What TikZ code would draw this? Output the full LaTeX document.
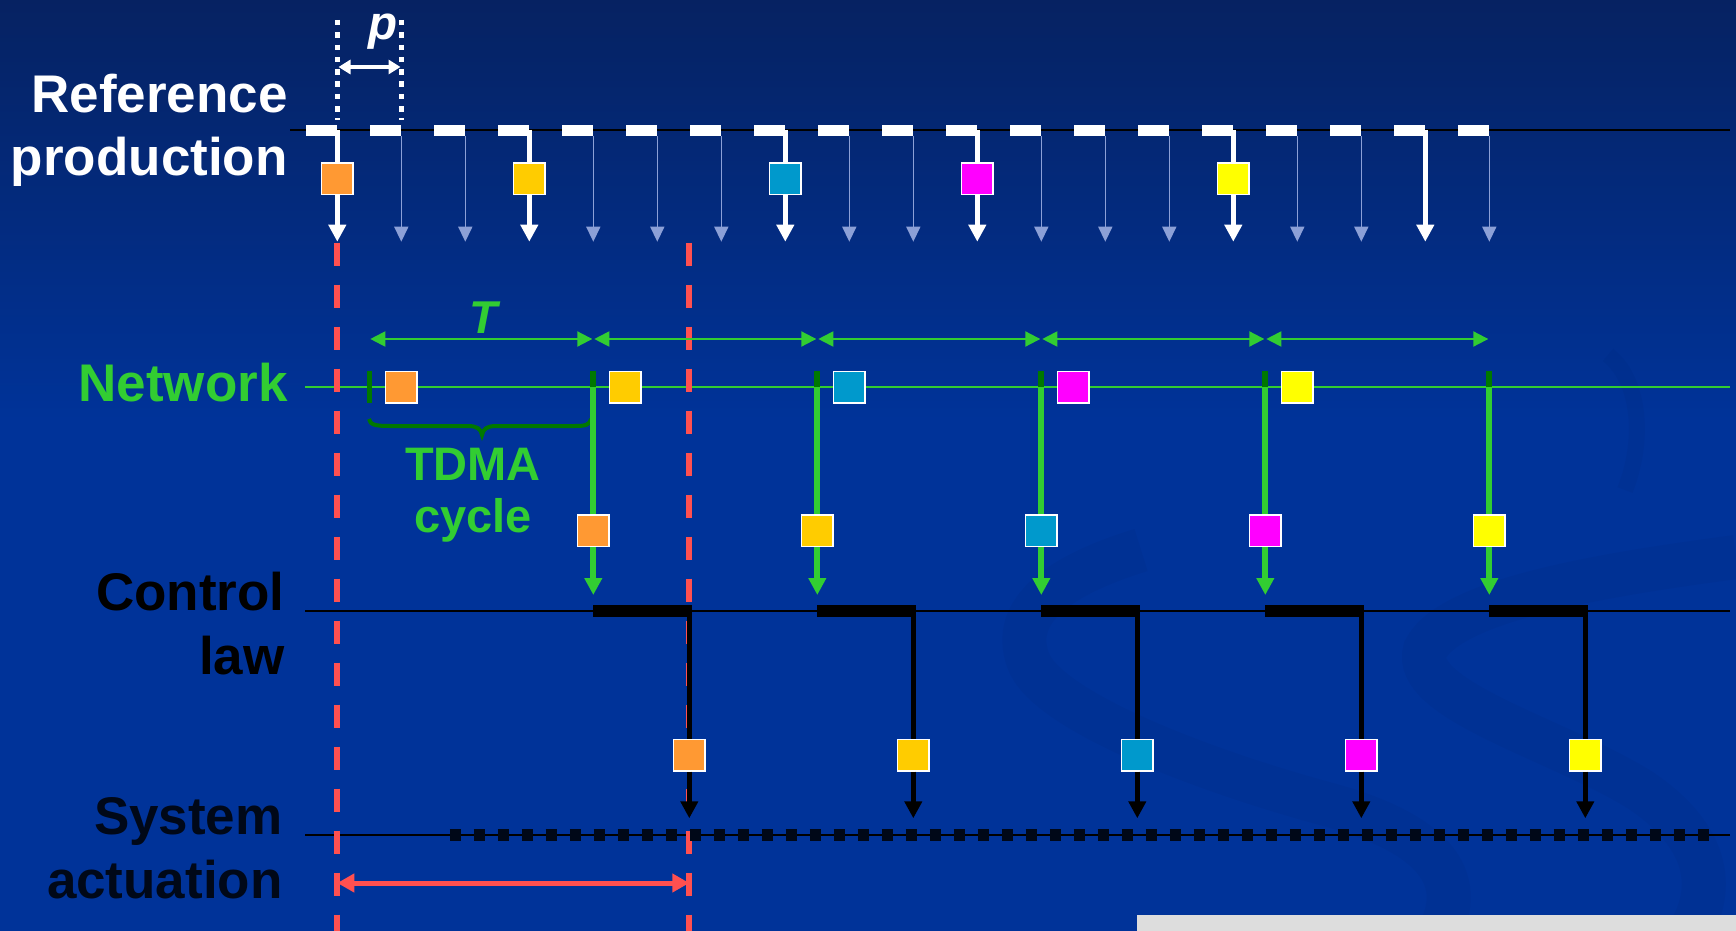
\documentclass[tikz,border=0pt]{standalone}
\usepackage{fontspec}
\setmainfont{Liberation Sans}
\usetikzlibrary{arrows.meta}
\definecolor{bgtop}{RGB}{6,34,98}
\definecolor{bgmid}{RGB}{0,51,153}
\definecolor{swirlc}{RGB}{0,36,115}
\definecolor{corange}{RGB}{255,153,51}
\definecolor{cgold}{RGB}{255,204,0}
\definecolor{ccyan}{RGB}{0,153,204}
\definecolor{cmag}{RGB}{255,0,255}
\definecolor{cyel}{RGB}{255,255,0}
\definecolor{netgreen}{RGB}{50,205,50}
\definecolor{dkgreen}{RGB}{0,120,0}
\definecolor{redc}{RGB}{255,80,80}
\definecolor{thinc}{RGB}{140,160,215}
\definecolor{sysdark}{RGB}{0,8,24}
\definecolor{grayc}{RGB}{221,221,221}
\tikzset{
  lbl/.style={inner sep=0pt, anchor=base east, font=\fontsize{26.5pt}{31pt}\selectfont\bfseries},
  sq/.style={draw=white, line width=0.75pt, minimum size=15.75pt, inner sep=0pt},
  bigw/.style={white, line width=2.5pt},
  bigwa/.style={white, line width=2.5pt, -{Triangle[length=8.5pt,width=8.5pt]}},
  thinarrow/.style={thinc, line width=0.75pt, -{Triangle[length=7.5pt,width=7pt]}},
  tarrow/.style={netgreen, line width=1pt, {Triangle[length=7.5pt,width=7.5pt]}-{Triangle[length=7.5pt,width=7.5pt]}},
  gline/.style={netgreen, line width=3pt},
  garrow/.style={netgreen, line width=3pt, -{Triangle[length=8.5pt,width=8.5pt]}},
  bline/.style={black, line width=2.5pt},
  barrow/.style={black, line width=2.5pt, -{Triangle[length=8.5pt,width=8.5pt]}},
  axisline/.style={black, line width=1pt},
  reddash/.style={redc, line width=3pt, dash pattern=on 11.75pt off 9.25pt},
  swirl/.style={swirlc, line width=22pt, opacity=0.12},
}
\begin{document}
\begin{tikzpicture}[x=0.5pt,y=-0.5pt]
\useasboundingbox (0,0) rectangle (1736,931);
% background
\shade[top color=bgtop, bottom color=bgmid] (0,0) rectangle (1736,420);
\fill[bgmid] (0,419) rectangle (1736,931);
% faint swirls
\draw[swirl] (1141,550) .. controls (1060,575) and (1010,610) .. (1028,660) .. controls (1045,710) and (1200,770) .. (1330,805) .. controls (1420,830) and (1470,870) .. (1440,931);
\draw[swirl] (1736,557) .. controls (1600,575) and (1450,600) .. (1425,650) .. controls (1410,700) and (1560,740) .. (1640,790) .. controls (1700,830) and (1720,880) .. (1690,931);
\draw[swirl, line width=8pt] (1608,355) .. controls (1640,380) and (1645,440) .. (1625,490);
\fill[grayc] (1137,914.5) rectangle (1736,931);

% ---------- labels
\node[lbl, white] (lref1) at (288,113) {Reference};
\node[lbl, white] (lref2) at (288,176) {production};
\node[lbl, netgreen] (lnet) at (288,401) {Network};
\node[lbl, black] (lctl1) at (285,610) {Control};
\node[lbl, black] (lctl2) at (285,674) {law};
\node[lbl, sysdark] (lsys1) at (283,834) {System};
\node[lbl, sysdark] (lsys2) at (283,898) {actuation};

% ---------- axis lines
\coordinate (refL) at (290,130);   \coordinate (refR) at (1730,130);
\coordinate (netL) at (305,386.7); \coordinate (netR) at (1730,386.7);
\coordinate (ctlL) at (305,610.7); \coordinate (ctlR) at (1730,610.7);
\coordinate (sysL) at (305,835);   \coordinate (sysR) at (1730,835);
\draw[axisline] (refL) -- (refR);
\draw[netgreen, line width=1pt] (netL) -- (netR);
\draw[axisline] (ctlL) -- (ctlR);
\draw[axisline] (sysL) -- (sysR);

% ---------- p marker
\coordinate (pd1a) at (337.3,20); \coordinate (pd1b) at (337.3,120);
\coordinate (pd2a) at (401.7,20); \coordinate (pd2b) at (401.7,120);
\draw[white, line width=2.75pt, dash pattern=on 2.75pt off 3.4pt] (pd1a) -- (pd1b);
\draw[white, line width=2.75pt, dash pattern=on 2.75pt off 3.4pt] (pd2a) -- (pd2b);
\coordinate (pa) at (338.5,67); \coordinate (pb) at (400.5,67);
\draw[white, line width=1.75pt, {Triangle[length=6pt,width=7pt]}-{Triangle[length=6pt,width=7pt]}] (pa) -- (pb);
\node[white, inner sep=0pt, anchor=base, font=\fontsize{23.75pt}{28pt}\selectfont\bfseries\itshape] (plab) at (383,40) {p};

% ---------- reference production row
\foreach \i in {0,...,18} {
  \pgfmathsetmacro\xx{337.3+64*\i}
  \fill[white] (\xx-31.6,125) rectangle (\xx,136);
  \coordinate (d\i) at (\xx,130);
  \coordinate (ds\i) at (\xx,136);
  \coordinate (rt\i) at (\xx,241.7);
}
\foreach \i in {1,2,4,5,6,8,9,11,12,13,15,16,18} {
  \draw[thinarrow] (ds\i) -- (rt\i);
}
\foreach \i/\c in {0/corange,3/cgold,7/ccyan,10/cmag,14/cyel} {
  \pgfmathsetmacro\xx{337.3+64*\i}
  \node[sq, fill=\c] (rs\i) at (\xx,178.7) {};
  \draw[bigw] (d\i) -- (rs\i.north);
  \draw[bigwa] (rs\i.south) -- (rt\i);
}
\draw[bigwa] (d17) -- (rt17);

% ---------- red dashed markers
\coordinate (rdA) at (337.3,242.7); \coordinate (rdAb) at (337.3,935);
\coordinate (rdB) at (689.3,242.7); \coordinate (rdBb) at (689.3,935);
\draw[reddash] (rdA) -- (rdAb);
\draw[reddash] (rdB) -- (rdBb);
\coordinate (raL) at (337.3,883); \coordinate (raR) at (689.3,883);
\draw[redc, line width=2.5pt, {Triangle[length=8.5pt,width=9pt]}-{Triangle[length=8.5pt,width=9pt]}] (raL) -- (raR);

% ---------- network row
\foreach \k in {0,...,5} {
  \pgfmathsetmacro\bb{369.3+224*\k}
  \coordinate (b\k) at (\bb,339);
  \coordinate (bt\k) at (\bb,371);
  \coordinate (bm\k) at (\bb,387);
}
\foreach \k in {0,...,4} {
  \pgfmathsetmacro\xa{369.3+224*\k+1}
  \pgfmathsetmacro\xb{369.3+224*(\k+1)-1}
  \coordinate (ta\k) at (\xa,339);
  \coordinate (tb\k) at (\xb,339);
  \draw[tarrow] (ta\k) -- (tb\k);
}
\node[netgreen, inner sep=0pt, anchor=base, font=\fontsize{23pt}{27pt}\selectfont\bfseries\itshape] (tlab) at (484,333) {T};
% first tick
\coordinate (tk0b) at (369.3,403);
\draw[dkgreen, line width=2.5pt] (bt0) -- (tk0b);
% network squares
\foreach \k/\c in {0/corange,1/cgold,2/ccyan,3/cmag,4/cyel} {
  \pgfmathsetmacro\xx{369.3+224*\k+32}
  \node[sq, fill=\c] (nq\k) at (\xx,387) {};
}
% brace
\draw[dkgreen, line width=2pt] (369,419) .. controls (370,425) and (376,426) .. (390,426) -- (468,426) .. controls (477,426) and (481,429) .. (482,435) .. controls (483,429) and (487,426) .. (496,426) -- (575,426) .. controls (585,426) and (590,425) .. (591,419);
\node[netgreen, inner sep=0pt, anchor=base, font=\fontsize{23.5pt}{27pt}\selectfont\bfseries] (tdma1) at (473,480) {TDMA};
\node[netgreen, inner sep=0pt, anchor=base, font=\fontsize{23.5pt}{27pt}\selectfont\bfseries] (tdma2) at (473,532) {cycle};

% network -> control arrows, control bars, control -> actuation arrows
\foreach \k/\c in {1/corange,2/cgold,3/ccyan,4/cmag,5/cyel} {
  \pgfmathsetmacro\bb{369.3+224*\k}
  \pgfmathsetmacro\cc{369.3+224*\k+96}
  \draw[dkgreen, line width=3pt] (bt\k) -- (bm\k);
  \node[sq, fill=\c] (gs\k) at (\bb,530.5) {};
  \coordinate (gt\k) at (\bb,595);
  \draw[gline] (bm\k) -- (gs\k.north);
  \draw[garrow] (gs\k.south) -- (gt\k);
  % control bar
  \coordinate (cbL\k) at (\bb,610.8);
  \coordinate (cbR\k) at (\cc+2.5,610.8);
  \draw[black, line width=5.85pt] (cbL\k) -- (cbR\k);
  \coordinate (cv\k) at (\cc,611);
  \coordinate (ct\k) at (\cc,818.3);
  \node[sq, fill=\c] (cs\k) at (\cc,755) {};
  \draw[bline] (cv\k) -- (cs\k.north);
  \draw[barrow] (cs\k.south) -- (ct\k);
}

% system actuation dotted
\coordinate (sdA) at (449.5,835); \coordinate (sdB) at (1709.5,835);
\draw[sysdark, line width=5.75pt, dash pattern=on 5.75pt off 6.25pt] (sdA) -- (sdB);
\end{tikzpicture}
\end{document}
